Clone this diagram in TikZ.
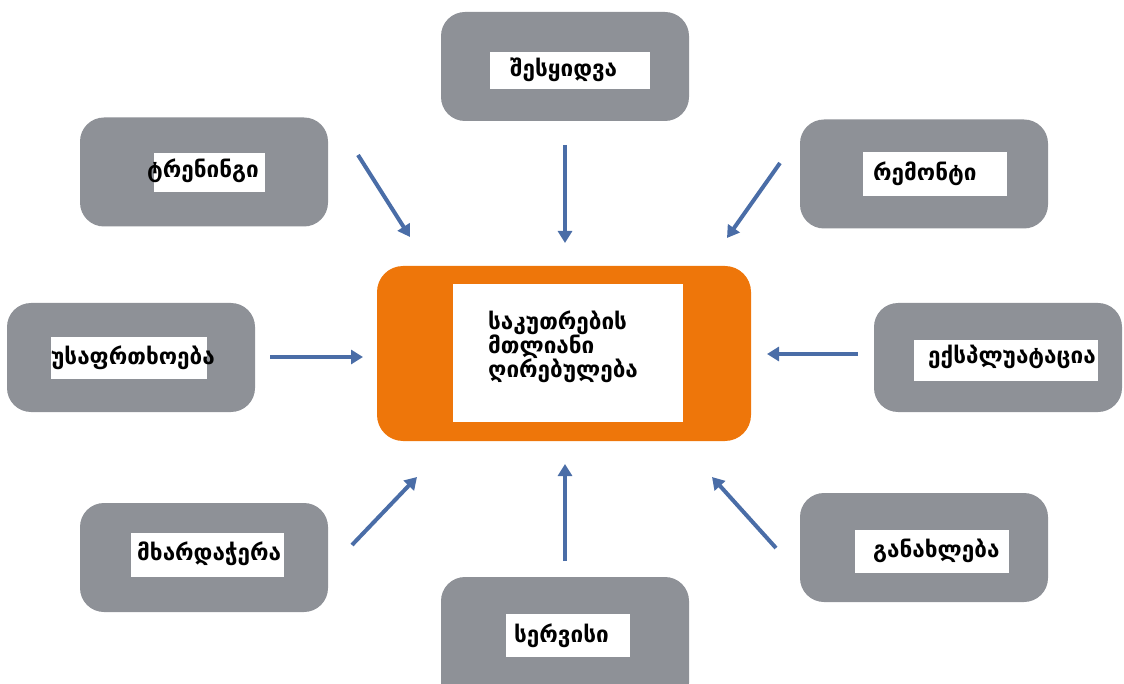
\documentclass[tikz,border=0pt]{standalone}
\usepackage{fontspec}
\newfontfamily\geo{DejaVu Sans}
\usetikzlibrary{arrows.meta}
\definecolor{panelgray}{HTML}{8E9197}
\definecolor{huborange}{HTML}{EE760A}
\definecolor{flowblue}{HTML}{4A6DA7}
\tikzset{
  panel/.style={fill=panelgray, rounded corners=24pt, minimum width=248pt, minimum height=109pt, inner sep=0},
  hub/.style={fill=huborange, rounded corners=26pt, minimum width=374pt, minimum height=175pt, inner sep=0},
  plate/.style={fill=white, inner sep=0},
  lbl/.style={font=\geo\bfseries\fontsize{22.5}{24}\selectfont, anchor=west, inner sep=0, text=black},
  flow/.style={draw=flowblue, line width=4pt, -{Triangle[length=12pt,width=14pt]}}
}
\begin{document}
\begin{tikzpicture}[x=1pt,y=-1pt]
\useasboundingbox (0,0) rectangle (1124,684);
\clip (0,0) rectangle (1124,684);

% central hub
\node[hub] (hub) at (564,353.5) {};
\node[plate, minimum width=230pt, minimum height=138pt] (hubplate) at (568,353) {};
\node[lbl, align=left] (hubtext) at (488,347) {საკუთრების\\მთლიანი\\ღირებულება};

% outer panels
\node[panel] (pTop) at (565,66.5) {};
\node[panel] (pTL) at (204,172) {};
\node[panel] (pTR) at (924,174) {};
\node[panel] (pL) at (131,357.5) {};
\node[panel] (pR) at (998,357.5) {};
\node[panel] (pBL) at (204,557.5) {};
\node[panel] (pBR) at (924,547.5) {};
\node[panel, minimum height=130pt] (pB) at (565,642) {};

% white label plates
\node[plate, minimum width=160pt, minimum height=37pt] (wTop) at (570,70.5) {};
\node[plate, minimum width=111pt, minimum height=39pt] (wTL) at (209.5,172.5) {};
\node[plate, minimum width=144pt, minimum height=44pt] (wTR) at (935,174) {};
\node[plate, minimum width=156pt, minimum height=42pt] (wL) at (129,358) {};
\node[plate, minimum width=184pt, minimum height=41pt] (wR) at (1006,360.5) {};
\node[plate, minimum width=153pt, minimum height=44pt] (wBL) at (207.5,555) {};
\node[plate, minimum width=154pt, minimum height=43pt] (wBR) at (932,551.5) {};
\node[plate, minimum width=124pt, minimum height=43pt] (wB) at (568,635.5) {};

% labels
\node[lbl] (tTop) at (510,70) {შესყიდვა};
\node[lbl] (tTL) at (147,171) {ტრენინგი};
\node[lbl] (tTR) at (873,174) {რემონტი};
\node[lbl] (tL) at (51,358) {უსაფრთხოება};
\node[lbl] (tR) at (928,357) {ექსპლუატაცია};
\node[lbl] (tBL) at (137,554) {მხარდაჭერა};
\node[lbl] (tBR) at (873,551) {განახლება};
\node[lbl] (tB) at (514,636) {სერვისი};

% arrow end points
\coordinate (aTLs) at (358,155);  \coordinate (aTLe) at (410,237);
\coordinate (aTs)  at (565,145);  \coordinate (aTe)  at (565,243);
\coordinate (aTRs) at (780,163);  \coordinate (aTRe) at (727,238);
\coordinate (aLs)  at (270,357);  \coordinate (aLe)  at (363,357);
\coordinate (aRs)  at (858,354);  \coordinate (aRe)  at (767,354);
\coordinate (aBLs) at (352,545);  \coordinate (aBLe) at (417,477);
\coordinate (aBs)  at (565,561);  \coordinate (aBe)  at (565,464);
\coordinate (aBRs) at (776,548);  \coordinate (aBRe) at (712,477);

\draw[flow] (aTLs) -- (aTLe);
\draw[flow] (aTs) -- (aTe);
\draw[flow] (aTRs) -- (aTRe);
\draw[flow] (aLs) -- (aLe);
\draw[flow] (aRs) -- (aRe);
\draw[flow] (aBLs) -- (aBLe);
\draw[flow] (aBs) -- (aBe);
\draw[flow] (aBRs) -- (aBRe);
\end{tikzpicture}
\end{document}
